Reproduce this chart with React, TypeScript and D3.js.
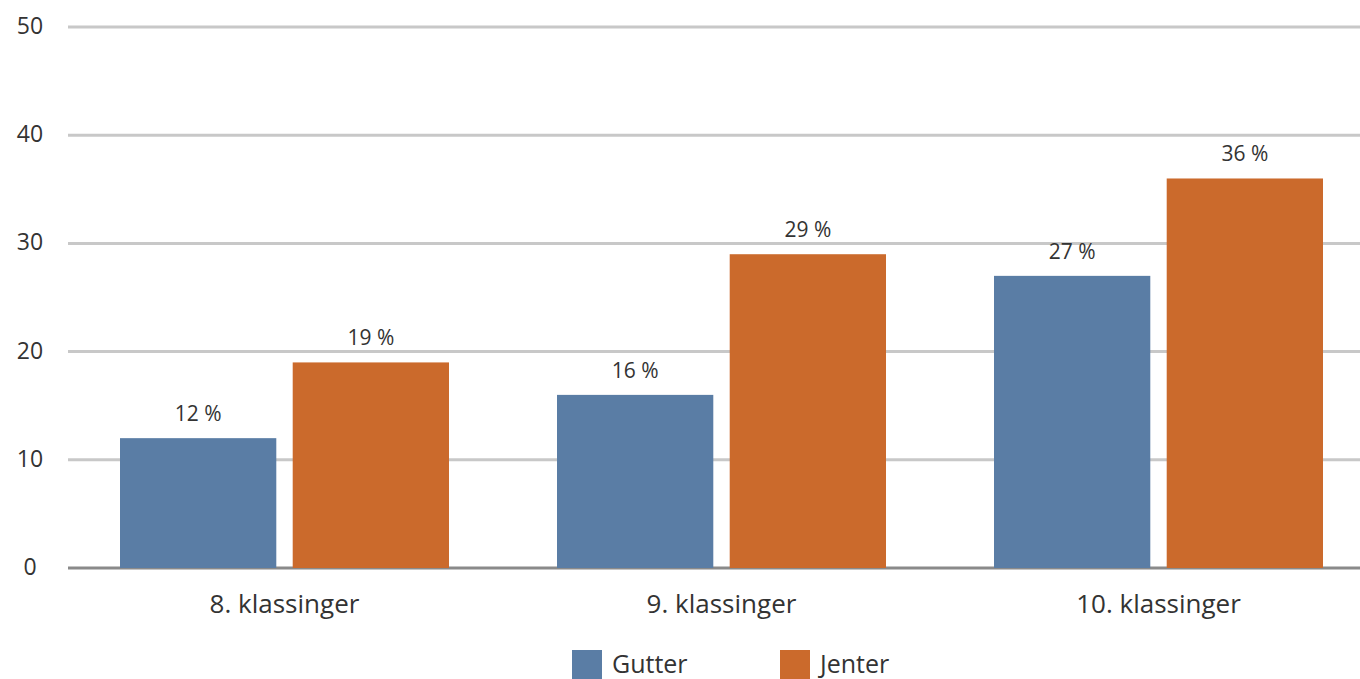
import React, { useEffect, useRef } from 'react';
import * as d3 from 'd3';

const categories = ['8. klassinger', '9. klassinger', '10. klassinger'];
const seriesNames = ['Gutter', 'Jenter'];
const gutter = [12, 16, 27];
const jenter = [19, 29, 36];
const yTicks = [0, 10, 20, 30, 40, 50];

const colors = ['#5a7da5', '#cb6a2c'];

const App: React.FC = () => {
    const svgRef = useRef<SVGSVGElement>(null);

    useEffect(() => {
        if (!svgRef.current) return;
        const svg = d3.select(svgRef.current);
        svg.selectAll('*').remove();

        const width = 1360;
        const font = '"Open Sans", "DejaVu Sans", sans-serif';

        const y = d3.scaleLinear().domain([0, 50]).range([568, 27]);
        const x0 = d3.scaleBand().domain(categories).range([66, 1377]).paddingInner(0).paddingOuter(0);
        const x1 = d3.scaleBand().domain(seriesNames).range([54, x0.bandwidth() - 54]).paddingInner(0.095);

        // grid
        svg.append('g')
            .selectAll('line')
            .data(yTicks)
            .enter()
            .append('line')
            .attr('x1', 68)
            .attr('x2', width)
            .attr('y1', d => y(d))
            .attr('y2', d => y(d))
            .style('stroke', d => (d === 0 ? '#8a8a8a' : '#c8c8c8'))
            .style('stroke-width', 3);

        svg.append('g')
            .selectAll('text')
            .data(yTicks)
            .enter()
            .append('text')
            .attr('x', 30)
            .attr('y', d => y(d))
            .attr('dy', '0.3em')
            .attr('text-anchor', 'middle')
            .style('font-family', font)
            .style('font-size', '23px')
            .style('fill', '#333')
            .text(d => d);

        const rows = categories.map((c, i) => ({ cat: c, values: [gutter[i], jenter[i]] }));

        const groups = svg.append('g')
            .selectAll('g')
            .data(rows)
            .enter()
            .append('g')
            .attr('transform', d => `translate(${x0(d.cat)},0)`);

        groups.selectAll('rect')
            .data(d => d.values.map((v, i) => ({ key: seriesNames[i], v, i })))
            .enter()
            .append('rect')
            .attr('x', d => x1(d.key)!)
            .attr('width', x1.bandwidth())
            .attr('y', d => y(d.v))
            .attr('height', d => y(0) - y(d.v))
            .style('fill', d => colors[d.i]);

        groups.selectAll('text.val')
            .data(d => d.values.map((v, i) => ({ key: seriesNames[i], v, i })))
            .enter()
            .append('text')
            .attr('class', 'val')
            .attr('x', d => x1(d.key)! + x1.bandwidth() / 2)
            .attr('y', d => y(d.v) - 17)
            .attr('text-anchor', 'middle')
            .style('font-family', font)
            .style('font-size', '21px')
            .style('fill', '#333')
            .text(d => `${d.v} %`);

        svg.append('g')
            .selectAll('text')
            .data(categories)
            .enter()
            .append('text')
            .attr('x', d => x0(d)! + x0.bandwidth() / 2)
            .attr('y', 613)
            .attr('text-anchor', 'middle')
            .style('font-family', font)
            .style('font-size', '26px')
            .style('fill', '#333')
            .text(d => d);

        // legend
        const legend = svg.append('g')
            .selectAll('g')
            .data(seriesNames)
            .enter()
            .append('g')
            .attr('transform', (_, i) => `translate(${572 + i * 208},650)`);

        legend.append('rect')
            .attr('width', 30)
            .attr('height', 30)
            .style('fill', (_, i) => colors[i]);

        legend.append('text')
            .attr('x', 40)
            .attr('y', 23)
            .style('font-family', font)
            .style('font-size', '25px')
            .style('fill', '#333')
            .text(d => d);
    }, []);

    return (
        <svg
            ref={svgRef}
            width={1360}
            height={679}
            style={{ position: 'absolute', left: 0, top: 0, background: '#fff' }}
        />
    );
};

export default App;
